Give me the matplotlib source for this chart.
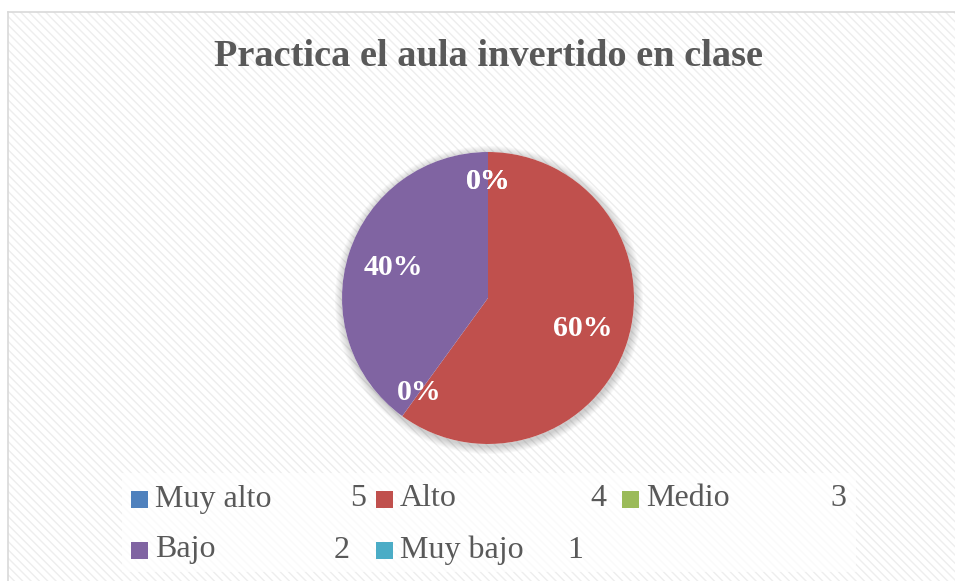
import numpy as np
import matplotlib
matplotlib.use("Agg")
import matplotlib.pyplot as plt
from matplotlib.patches import Rectangle, Circle

# data
categories = ["Muy alto", "Alto", "Medio", "Bajo", "Muy bajo"]
codes = ["5", "4", "3", "2", "1"]
values = [0, 60, 0, 40, 0]
colors = ["#4F81BD", "#C0504D", "#9BBB59", "#8064A2", "#4BACC6"]
title = "Practica el aula invertido en clase"

plt.rcParams["font.family"] = ["Liberation Serif", "DejaVu Serif"]
plt.rcParams["hatch.linewidth"] = 1.0

W, H = 955, 581
fig = plt.figure(figsize=(W / 100, H / 100), dpi=100)
fig.patch.set_facecolor("white")
ax = fig.add_axes([0, 0, 1, 1])

def Y(y):  # pixel from top -> data y
    return H - y

# chart area background with light diagonal stripes
ax.add_patch(Rectangle((8, -20), W + 20, Y(12) + 20, facecolor="white",
                       edgecolor="#eeeeee", linewidth=0, hatch="\\\\\\\\", zorder=0))
ax.plot([8, W + 20], [Y(12), Y(12)], color="#d9d9d9", lw=1.2, zorder=1)
ax.plot([8, 8], [Y(12), -20], color="#d9d9d9", lw=1.2, zorder=1)

# title
ax.text(488, Y(56), title, ha="center", va="center", fontsize=27.6,
        fontweight="bold", color="#595959", zorder=5)

# pie
cx, cy, r = 488, Y(298), 146
for i in range(8):
    ax.add_patch(Circle((cx + 1, cy - 2), r + 8 - i, facecolor="#000000",
                        alpha=0.022, linewidth=0, zorder=2))
ax.add_patch(Circle((cx, cy), r, facecolor="white", linewidth=0, zorder=2))
wedges, _ = ax.pie(values, colors=colors, startangle=90, counterclock=False,
                   center=(cx, cy), radius=r,
                   wedgeprops=dict(linewidth=0, zorder=3))
ax.set_xlim(0, W)
ax.set_ylim(0, H)
ax.set_aspect("equal")
ax.axis("off")

total = sum(values)
for w, v in zip(wedges, values):
    mid = np.deg2rad((w.theta1 + w.theta2) / 2)
    d = 0.68 if v > 0 else 0.80
    ax.text(cx + d * r * np.cos(mid), cy + d * r * np.sin(mid),
            "%d%%" % round(100 * v / total), ha="center", va="center",
            fontsize=21.5, fontweight="bold", color="white", zorder=6)

# legend
ax.add_patch(Rectangle((122, Y(572)), 734, 99, facecolor="white", alpha=0.75,
                       linewidth=0, zorder=4))
marker_x = [131, 376, 622, 131, 376]
row_y = [499, 499, 499, 550, 550]
num_right = [366, 606, 846, 350, 583]
for i, (lab, code) in enumerate(zip(categories, codes)):
    ax.add_patch(Rectangle((marker_x[i], Y(row_y[i] + 8.5)), 17, 17,
                           facecolor=colors[i], linewidth=0, zorder=5))
    ax.text(marker_x[i] + 24, Y(row_y[i]), lab, ha="left", va="center",
            fontsize=23, color="#595959", zorder=6)
    ax.text(num_right[i], Y(row_y[i]), code, ha="right", va="center",
            fontsize=23, color="#595959", zorder=6)

fig.savefig("out.png", dpi=100)
